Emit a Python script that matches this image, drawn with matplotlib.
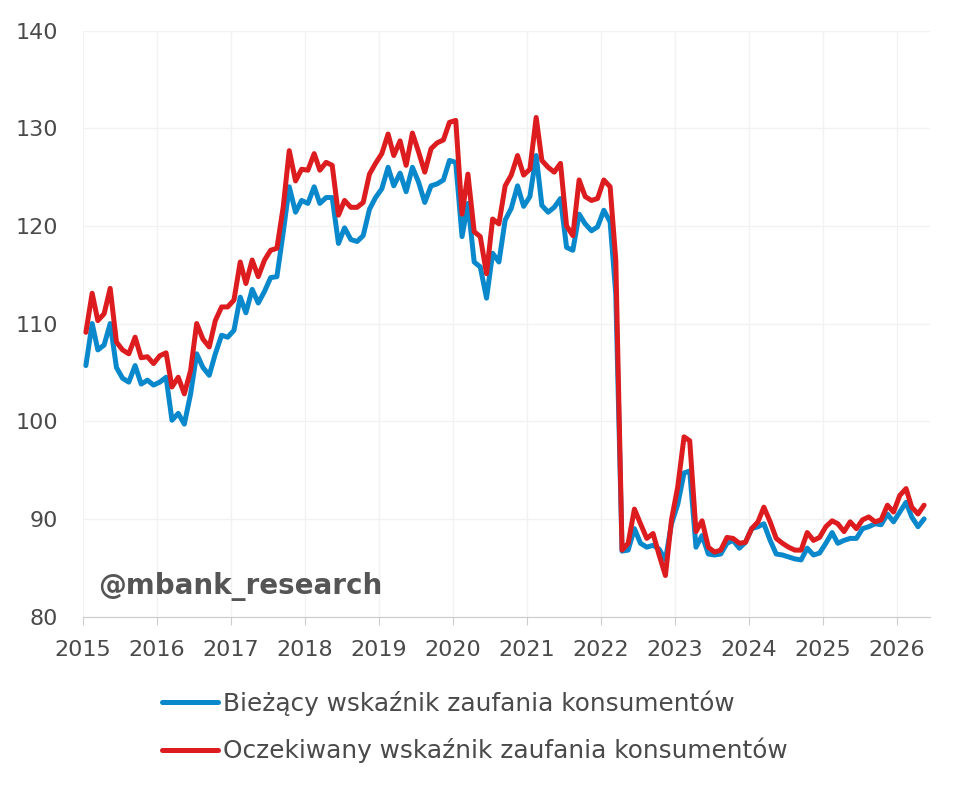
import numpy as np
import pandas as pd
import matplotlib
matplotlib.use("Agg")
import matplotlib.pyplot as plt

# monthly data, Jan 2015 .. May 2026
biezacy = [
    105.7, 110.0, 107.3, 107.8, 110.0, 105.5, 104.4, 104.0, 105.7, 103.8, 104.2, 103.7,
    104.0, 104.5, 100.1, 100.8, 99.7, 102.8, 106.9, 105.5, 104.7, 106.9, 108.8, 108.6,
    109.3, 112.7, 111.1, 113.5, 112.1, 113.3, 114.7, 114.8, 119.3, 124.0, 121.4, 122.6,
    122.3, 124.0, 122.3, 122.9, 122.9, 118.2, 119.8, 118.6, 118.4, 119.0, 121.7, 122.9,
    123.8, 126.0, 124.1, 125.4, 123.5, 126.0, 124.5, 122.4, 124.1, 124.3, 124.7, 126.7,
    126.5, 118.9, 122.3, 116.3, 115.8, 112.6, 117.2, 116.3, 120.6, 121.8, 124.1, 122.0,
    123.0, 127.2, 122.1, 121.4, 121.9, 122.8, 117.8, 117.5, 121.2, 120.2, 119.5, 119.9,
    121.6, 120.4, 113.0, 86.7, 86.8, 89.0, 87.5, 87.1, 87.3, 86.9, 85.8, 89.5,
    91.5, 94.7, 94.9, 87.1, 88.3, 86.4, 86.3, 86.4, 87.5, 87.8, 87.0, 87.6,
    89.0, 89.2, 89.5, 87.8, 86.4, 86.3, 86.1, 85.9, 85.8, 87.0, 86.3, 86.5,
    87.5, 88.6, 87.5, 87.8, 88.0, 88.0, 89.0, 89.2, 89.5, 89.4, 90.5, 89.7,
    90.7, 91.7, 90.2, 89.2, 90.0,
]
oczekiwany = [
    109.1, 113.1, 110.3, 111.0, 113.6, 108.1, 107.3, 106.9, 108.6, 106.5, 106.6, 105.9,
    106.7, 107.0, 103.5, 104.5, 102.8, 105.2, 110.0, 108.4, 107.6, 110.3, 111.7, 111.7,
    112.4, 116.3, 114.1, 116.5, 114.8, 116.5, 117.5, 117.7, 121.9, 127.7, 124.6, 125.8,
    125.7, 127.4, 125.7, 126.5, 126.2, 121.1, 122.6, 121.9, 121.9, 122.4, 125.3, 126.4,
    127.4, 129.4, 127.2, 128.7, 126.2, 129.5, 127.6, 125.5, 127.9, 128.5, 128.8, 130.6,
    130.8, 121.2, 125.3, 119.4, 118.9, 115.1, 120.7, 120.2, 124.1, 125.2, 127.2, 125.2,
    125.8, 131.1, 126.7, 126.0, 125.5, 126.4, 120.0, 119.0, 124.7, 123.0, 122.6, 122.8,
    124.7, 124.0, 116.5, 86.8, 87.5, 91.0, 89.5, 88.0, 88.5, 86.3, 84.2, 89.9,
    93.3, 98.4, 98.0, 88.7, 89.8, 87.1, 86.6, 86.8, 88.1, 88.0, 87.5, 87.6,
    89.0, 89.7, 91.2, 89.7, 88.0, 87.5, 87.1, 86.8, 86.8, 88.6, 87.8, 88.1,
    89.2, 89.8, 89.5, 88.7, 89.7, 89.0, 89.9, 90.2, 89.7, 89.9, 91.4, 90.7,
    92.4, 93.1, 91.2, 90.5, 91.4,
]
labels = ["Bieżący wskaźnik zaufania konsumentów",
          "Oczekiwany wskaźnik zaufania konsumentów"]
years = list(range(2015, 2027))
yticks = [80, 90, 100, 110, 120, 130, 140]

dates = pd.date_range("2015-01-01", periods=len(biezacy), freq="MS") + pd.Timedelta(days=14)

BLUE = "#0a88cc"
RED = "#dc1c1f"
TXT = "#4a4a4a"

plt.rcParams["font.family"] = ["DejaVu Sans"]

fig = plt.figure(figsize=(9.6, 7.85), dpi=100)
ax = fig.add_axes([0.0865, 0.2146, 0.882, 0.7465])

ax.plot(dates, biezacy, color=BLUE, lw=3.6, solid_joinstyle="round",
        solid_capstyle="round", label=labels[0])
ax.plot(dates, oczekiwany, color=RED, lw=3.6, solid_joinstyle="round",
        solid_capstyle="round", label=labels[1])

ax.set_ylim(80, 140)
ax.set_yticks(yticks)
ax.set_xlim(pd.Timestamp("2015-01-01"), pd.Timestamp("2026-06-12"))
ax.set_xticks([pd.Timestamp(f"{y}-01-01") for y in years])
ax.set_xticklabels([str(y) for y in years])

ax.grid(True, color="#f2f2f2", lw=1)
ax.set_axisbelow(True)
for s in ["top", "right", "left"]:
    ax.spines[s].set_visible(False)
ax.spines["bottom"].set_color("#cccccc")
ax.tick_params(axis="y", length=0, pad=18, labelsize=16, labelcolor=TXT)
ax.tick_params(axis="x", length=6, color="#cccccc", pad=11, labelsize=16, labelcolor=TXT)

ax.text(0.018, 0.052, "@mbank_research", transform=ax.transAxes,
        fontsize=20, fontweight="bold", color="#555555", va="center", ha="left")

fig.legend(loc="upper left", bbox_to_anchor=(0.169, 0.1205), frameon=False,
           fontsize=17.8, handlelength=2.25, handletextpad=0.22, labelspacing=0.88,
           borderaxespad=0, borderpad=0, labelcolor=TXT)

fig.savefig("out.png", dpi=100, facecolor="white")
